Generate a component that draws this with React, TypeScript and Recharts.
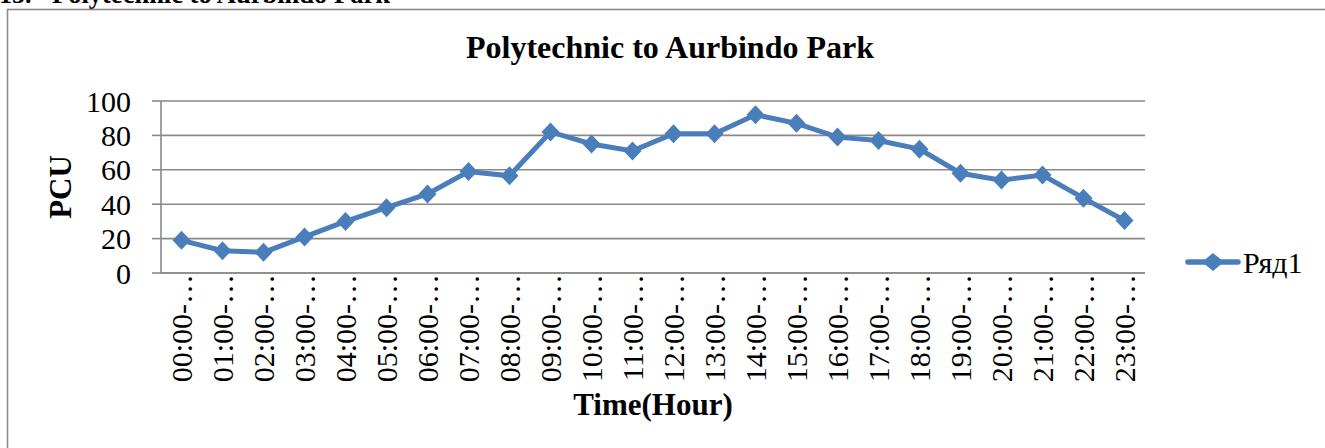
import React from 'react';
import { LineChart, Line, XAxis, YAxis, CartesianGrid, Legend } from 'recharts';

const FONT = "'Liberation Serif', 'Times New Roman', serif";
const LINE_COLOR = '#4A7EBB';
const GRID = '#898989';

const hours = ['00:00-…', '01:00-…', '02:00-…', '03:00-…', '04:00-…', '05:00-…', '06:00-…', '07:00-…', '08:00-…', '09:00-…', '10:00-…', '11:00-…', '12:00-…', '13:00-…', '14:00-…', '15:00-…', '16:00-…', '17:00-…', '18:00-…', '19:00-…', '20:00-…', '21:00-…', '22:00-…', '23:00-…'];
const pcu = [19, 13, 12, 21, 30, 38, 46, 59, 56.5, 82, 75, 71, 81, 81, 92, 87, 79, 77, 72, 58, 54, 57, 43.5, 30.5];
const yTicks = [0, 20, 40, 60, 80, 100];
const seriesName = 'Ряд1';
const chartTitle = 'Polytechnic to Aurbindo Park';
const headingNumber = '15.';
const xTitle = 'Time(Hour)';
const yTitle = 'PCU';

const data = hours.map((h, i) => ({ hour: h, value: pcu[i] }));

const Diamond = (props: any) => {
  const { cx, cy } = props;
  if (cx == null || cy == null) return null;
  return <path d={`M${cx},${cy - 9.5} L${cx + 9},${cy} L${cx},${cy + 9.5} L${cx - 9},${cy} Z`} fill={LINE_COLOR} stroke="none" />;
};

const XTick = (props: any) => {
  const { x, y, payload } = props;
  return (
    <g transform={`translate(${x},${y}) rotate(-90)`}>
      <text x={0} y={0} dy="0.36em" textAnchor="end" fontSize={30} fontFamily={FONT} fill="#000">
        {payload.value}
      </text>
    </g>
  );
};

const YTitle = (props: any) => {
  const vb = props.viewBox;
  const cx = vb.x + 71;
  const cy = vb.y + vb.height / 2;
  return (
    <text x={cx} y={cy} transform={`rotate(-90, ${cx}, ${cy})`} textAnchor="middle" fontSize={31} fontWeight="bold" fontFamily={FONT} fill="#000">
      {yTitle}
    </text>
  );
};

const LegendContent = () => (
  <svg width={145} height={44}>
    <line x1={8} y1={22} x2={58} y2={22} stroke={LINE_COLOR} strokeWidth={5.5} strokeLinecap="round" />
    <path d="M33,13 L44,22 L33,31 L22,22 Z" fill={LINE_COLOR} />
    <text x={63} y={33} fontSize={30} fontFamily={FONT} fill="#000">{seriesName}</text>
  </svg>
);

export default function App() {
  return (
    <div style={{ position: 'fixed', left: 0, top: 0, width: 1325, height: 448, overflow: 'hidden', background: '#fff', fontFamily: FONT }}>
      <svg width={1325} height={448} style={{ position: 'absolute', left: 0, top: 0 }}>
        <text x={-1} y={3} fontSize={26} fontWeight="bold" fontFamily={FONT} fill="#000">{headingNumber}</text>
        <text x={52} y={3} fontSize={26.5} fontWeight="bold" fontFamily={FONT} fill="#000">{chartTitle}</text>
        <rect x={7.5} y={9.5} width={1400} height={600} fill="none" stroke="#8a8a8a" strokeWidth={1.6} />
        <text x={670} y={58} textAnchor="middle" fontSize={32} fontWeight="bold" fontFamily={FONT} fill="#000">{chartTitle}</text>
      </svg>
      <div style={{ position: 'absolute', left: 0, top: 0 }}>
        <LineChart width={1325} height={448} data={data} margin={{ top: 101, right: 180, bottom: 0, left: 0 }}>
          <CartesianGrid vertical={false} stroke={GRID} strokeWidth={1.6} />
          <XAxis
            dataKey="hour"
            scale="band"
            interval={0}
            height={175}
            tickLine={false}
            tickSize={0}
            tickMargin={1}
            axisLine={{ stroke: GRID, strokeWidth: 1.6 }}
            tick={<XTick />}
            label={{ value: xTitle, position: 'insideBottom', offset: 33, fontSize: 31, fontWeight: 'bold', fontFamily: FONT, fill: '#000' }}
          />
          <YAxis
            width={161}
            domain={[0, 100]}
            ticks={yTicks}
            interval={0}
            tickSize={9}
            tickMargin={21}
            tickLine={{ stroke: GRID, strokeWidth: 1.6 }}
            axisLine={{ stroke: GRID, strokeWidth: 1.6 }}
            tick={{ fill: '#000', fontSize: 30, fontFamily: FONT }}
            label={<YTitle />}
          />
          <Legend
            layout="horizontal"
            align="center"
            verticalAlign="middle"
            content={<LegendContent />}
            wrapperStyle={{ left: 1180, top: 240, width: 145, height: 44 }}
          />
          <Line
            type="linear"
            dataKey="value"
            name={seriesName}
            stroke={LINE_COLOR}
            strokeWidth={5}
            dot={<Diamond />}
            activeDot={false}
            isAnimationActive={false}
          />
        </LineChart>
      </div>
    </div>
  );
}
